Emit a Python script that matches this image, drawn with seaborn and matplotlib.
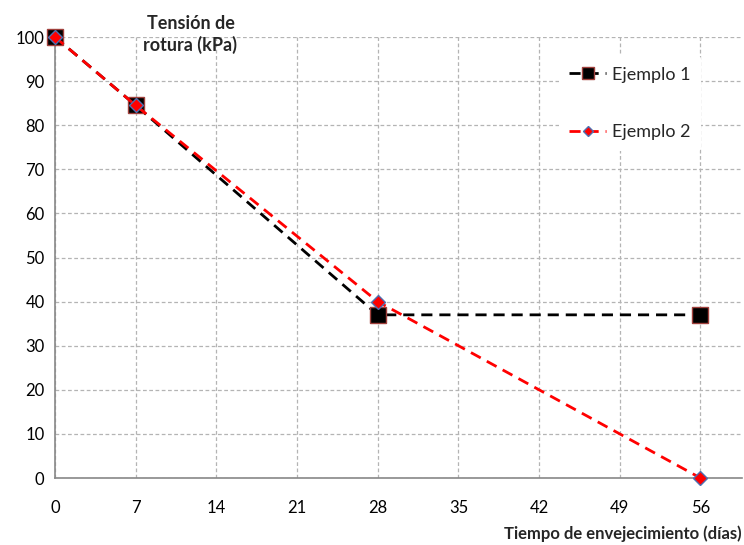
import matplotlib
matplotlib.use("Agg")
import matplotlib.pyplot as plt
import seaborn as sns
import pandas as pd

# Tiempo de envejecimiento (días) y tensión de rotura (kPa)
dias = [0, 7, 28, 56]
ejemplo1 = [100, 84.5, 37, 37]
ejemplo2 = [100, 84.5, 40, 0]
x_ticks = [0, 7, 14, 21, 28, 35, 42, 49, 56]
y_ticks = [0, 10, 20, 30, 40, 50, 60, 70, 80, 90, 100]

sns.set_style("white")
plt.rcParams["font.family"] = ["Lato", "DejaVu Sans"]

df = pd.DataFrame({"dias": dias, "Ejemplo 1": ejemplo1, "Ejemplo 2": ejemplo2})

fig = plt.figure(figsize=(7.44, 5.45), dpi=100)
ax = fig.add_axes([0.0739, 0.1229, 0.9234, 0.8092])

sns.lineplot(data=df, x="dias", y="Ejemplo 1", ax=ax, color="black",
             linestyle=(0, (4, 2.5)), linewidth=2.0, marker="s", markersize=11.5,
             markerfacecolor="black", markeredgecolor="#a0403c", markeredgewidth=1.0,
             label="Ejemplo 1", clip_on=False, zorder=3)
sns.lineplot(data=df, x="dias", y="Ejemplo 2", ax=ax, color="#ff0000",
             linestyle=(0, (4, 2.5)), linewidth=2.0, marker="D", markersize=7,
             markerfacecolor="#ff0000", markeredgecolor="#4f6fb0", markeredgewidth=1.0,
             label="Ejemplo 2", clip_on=False, zorder=4)

ax.set_xlim(0, 59.6)
ax.set_ylim(0, 100)
ax.set_xticks(x_ticks)
ax.set_yticks(y_ticks)
ax.tick_params(axis="both", labelsize=12, colors="#888888", labelcolor="black",
               length=4, width=1, direction="out")
ax.tick_params(axis="x", pad=12)
ax.grid(True, color="#b4b4b4", linestyle=(0, (3, 2)), linewidth=0.9)
for side in ["top", "right"]:
    ax.spines[side].set_visible(False)
for side in ["left", "bottom"]:
    ax.spines[side].set_color("#888888")
    ax.spines[side].set_linewidth(1.2)

ax.set_xlabel("")
ax.set_ylabel("")
fig.text(0.256, 0.937, "Tensión de\nrotura (kPa)", ha="center", va="center",
         fontsize=13, fontweight="bold", linespacing=1.3)
fig.text(0.997, 0.005, "Tiempo de envejecimiento (días)", ha="right", va="bottom",
         fontsize=12, fontweight="bold")

leg = ax.legend(loc="upper left", bbox_to_anchor=(0.72, 0.978), frameon=True,
                facecolor="white", edgecolor="none", fontsize=13,
                handlelength=2.0, labelspacing=2.3, handletextpad=0.35,
                markerscale=0.8, borderpad=0.6)
leg.get_frame().set_alpha(1)

fig.savefig("out.png", dpi=100)
